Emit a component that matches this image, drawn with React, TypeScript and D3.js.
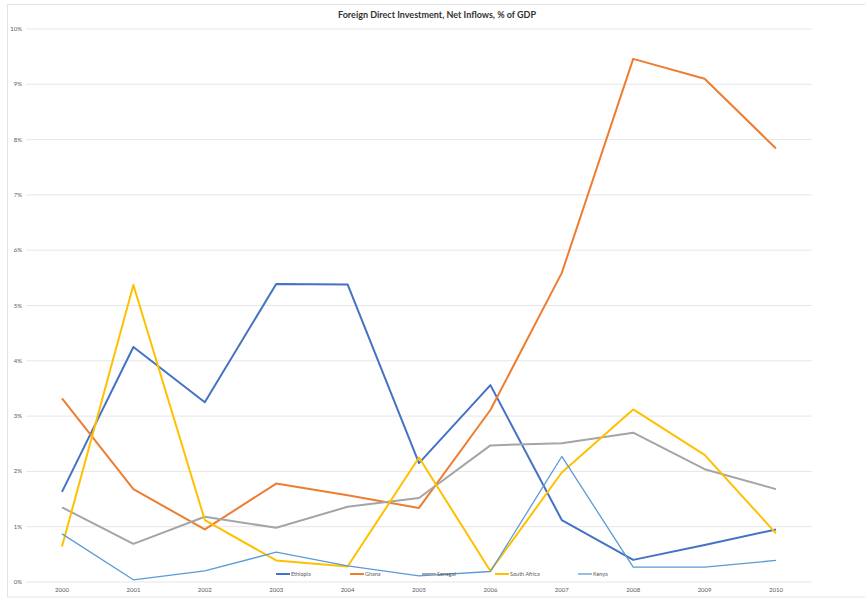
import { useRef, useEffect } from 'react';
import * as d3 from 'd3';

const years = ['2000', '2001', '2002', '2003', '2004', '2005', '2006', '2007', '2008', '2009', '2010'];

const ethiopia = [1.63, 4.25, 3.25, 5.39, 5.38, 2.15, 3.56, 1.12, 0.4, 0.67, 0.95];
const ghana = [3.32, 1.68, 0.95, 1.78, 1.57, 1.34, 3.11, 5.59, 9.46, 9.1, 7.84];
const senegal = [1.35, 0.69, 1.18, 0.98, 1.36, 1.52, 2.47, 2.51, 2.7, 2.04, 1.68];
const southAfrica = [0.64, 5.37, 1.12, 0.39, 0.28, 2.25, 0.2, 1.98, 3.12, 2.3, 0.88];
const kenya = [0.87, 0.04, 0.2, 0.54, 0.29, 0.11, 0.19, 2.27, 0.27, 0.27, 0.39];

const yTicks = [0, 1, 2, 3, 4, 5, 6, 7, 8, 9, 10];

const seriesList = [
  { name: 'Ethiopia', values: ethiopia, color: '#4472C4', width: 2 },
  { name: 'Ghana', values: ghana, color: '#ED7D31', width: 2 },
  { name: 'Senegal', values: senegal, color: '#A5A5A5', width: 2 },
  { name: 'South Africa', values: southAfrica, color: '#FFC000', width: 2 },
  { name: 'Kenya', values: kenya, color: '#5B9BD5', width: 1.3 },
];

// legend x offsets (line start) as laid out by the original
const legendX = [276, 350, 422, 495, 578];

export default function App() {
  const svgRef = useRef<SVGSVGElement>(null);
  const width = 865;
  const height = 598;

  useEffect(() => {
    if (!svgRef.current) return;
    const svg = d3.select(svgRef.current);
    svg.selectAll('*').remove();

    const font = 'Lato, "Open Sans", sans-serif';
    const plotLeft = 26.3;
    const plotRight = 811.7;

    svg.append('rect').attr('width', width).attr('height', height).attr('fill', '#ffffff');

    // outer chart frame
    svg
      .append('rect')
      .attr('x', 7.5)
      .attr('y', 4.5)
      .attr('width', width)
      .attr('height', 592.5)
      .attr('fill', 'none')
      .attr('stroke', '#e3e3e3')
      .attr('stroke-width', 1);

    const x = d3.scalePoint<string>().domain(years).range([plotLeft, plotRight]).padding(0.5);
    const y = d3.scaleLinear().domain([0, 10]).range([582, 29]);

    // gridlines
    svg
      .append('g')
      .selectAll('line')
      .data(yTicks)
      .enter()
      .append('line')
      .attr('x1', plotLeft)
      .attr('x2', plotRight)
      .attr('y1', (d) => y(d))
      .attr('y2', (d) => y(d))
      .attr('stroke', '#e6e6e6')
      .attr('stroke-width', 1);

    // y labels
    svg
      .append('g')
      .selectAll('text')
      .data(yTicks)
      .enter()
      .append('text')
      .attr('x', 22)
      .attr('y', (d) => y(d) + 2)
      .attr('text-anchor', 'end')
      .attr('font-family', font)
      .attr('font-size', 6)
      .attr('fill', '#595959')
      .text((d) => `${d}%`);

    // x labels
    svg
      .append('g')
      .selectAll('text')
      .data(years)
      .enter()
      .append('text')
      .attr('x', (d) => x(d) as number)
      .attr('y', 592)
      .attr('text-anchor', 'middle')
      .attr('font-family', font)
      .attr('font-size', 6)
      .attr('fill', '#595959')
      .text((d) => d);

    const line = d3
      .line<number>()
      .x((_, i) => x(years[i]) as number)
      .y((d) => y(d));

    seriesList.forEach((s) => {
      svg
        .append('path')
        .attr('d', line(s.values) || '')
        .attr('fill', 'none')
        .attr('stroke', s.color)
        .attr('stroke-width', s.width)
        .attr('stroke-linejoin', 'round');
    });

    // legend
    const legend = svg.append('g').attr('transform', 'translate(0,574)');
    seriesList.forEach((s, i) => {
      const lx = legendX[i];
      legend
        .append('line')
        .attr('x1', lx)
        .attr('x2', lx + 14)
        .attr('y1', 0)
        .attr('y2', 0)
        .attr('stroke', s.color)
        .attr('stroke-width', s.width);
      legend
        .append('text')
        .attr('x', lx + 15)
        .attr('y', 2)
        .attr('font-family', font)
        .attr('font-size', 5.5)
        .attr('fill', '#595959')
        .text(s.name);
    });

    // title
    svg
      .append('text')
      .attr('x', 437)
      .attr('y', 18)
      .attr('text-anchor', 'middle')
      .attr('font-family', font)
      .attr('font-size', 9)
      .attr('font-weight', 'bold')
      .attr('fill', '#333333')
      .text('Foreign Direct Investment, Net Inflows, % of GDP');
  }, []);

  return (
    <div style={{ position: 'absolute', top: 0, left: 0 }}>
      <svg ref={svgRef} width={width} height={height} viewBox={`0 0 ${width} ${height}`} style={{ display: 'block' }} />
    </div>
  );
}
